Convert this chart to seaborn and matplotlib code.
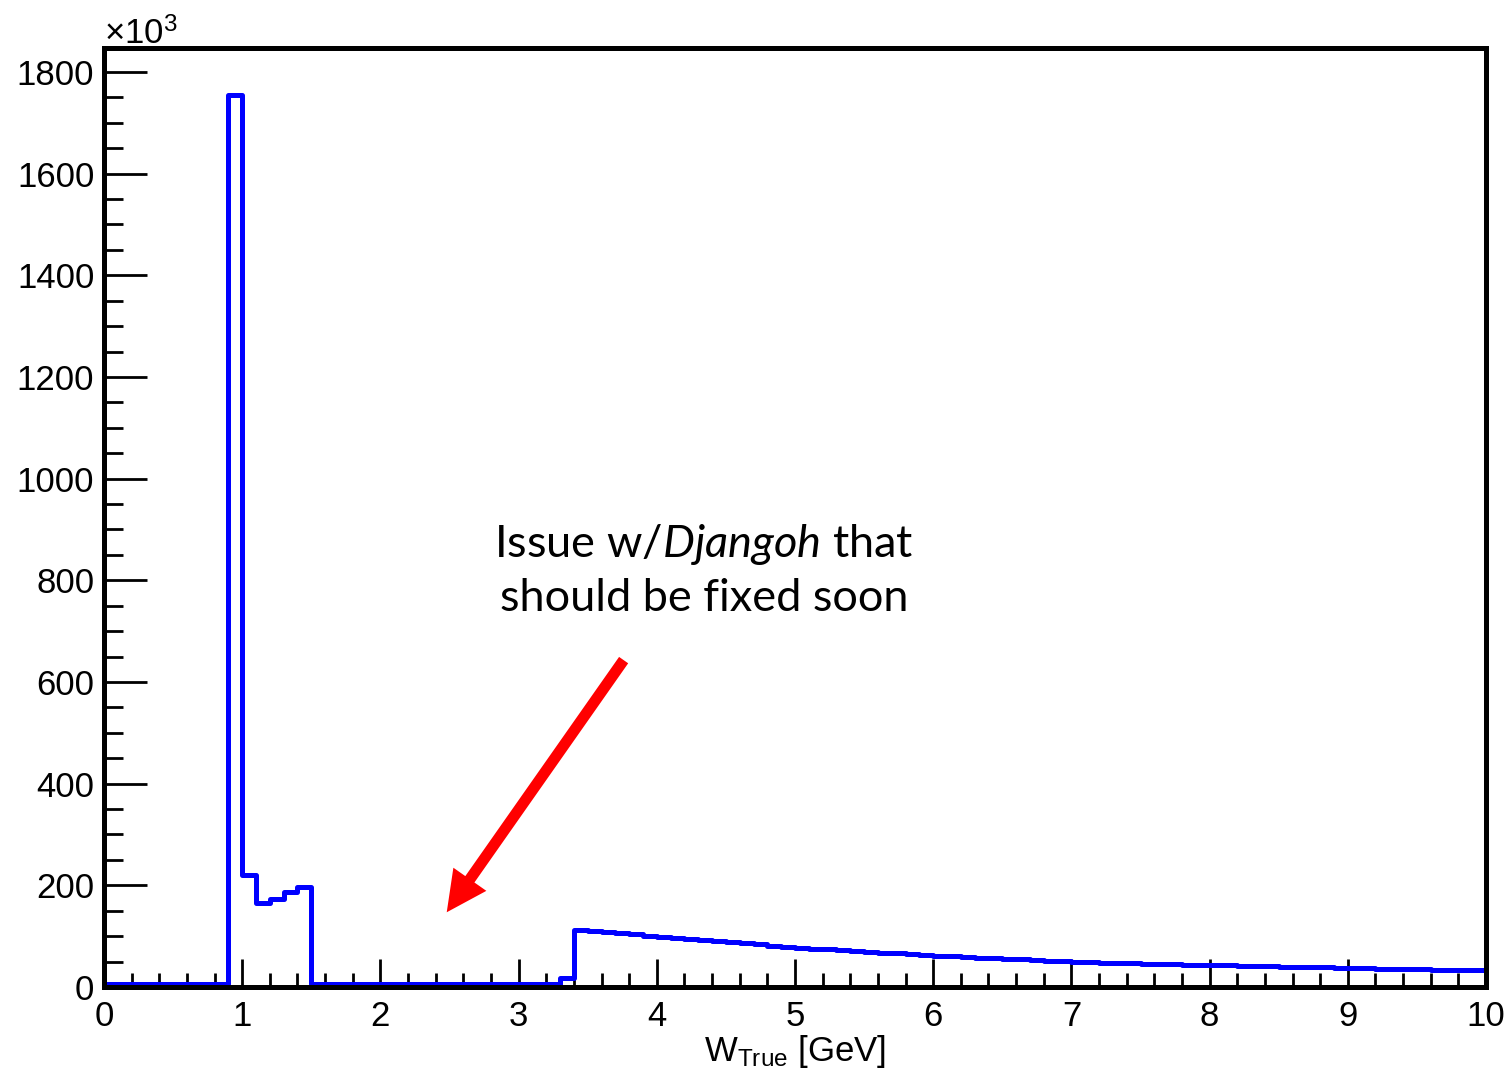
import numpy as np
import pandas as pd
import matplotlib
matplotlib.use("Agg")
import matplotlib.pyplot as plt
from matplotlib.ticker import MultipleLocator
import seaborn as sns

# Binning of W_true: 100 bins of 0.1 GeV between 0 and 10 GeV
n_bins = 100
w_range = (0.0, 10.0)
w_edges = np.linspace(w_range[0], w_range[1], n_bins + 1)
w_centers = 0.5 * (w_edges[:-1] + w_edges[1:])

# Entries per bin, in units of 10^3
counts_k = [
    # 0.0 - 0.8
    5, 5, 5, 5, 5, 5, 5, 5, 5,
    # 0.9 - 1.4
    1755, 220, 165, 173, 186, 196,
    # 1.5 - 3.2
    5, 5, 5, 5, 5, 5, 5, 5, 5, 5, 5, 5, 5, 5, 5, 5, 5, 5,
    # 3.3
    18,
    # 3.4 - 9.9
    113, 111, 108, 106, 104, 101, 99, 97, 95, 92,
    90, 88, 86, 84, 81, 79, 77, 75, 74, 72,
    71, 69, 67, 66, 64, 63, 61, 60, 59, 58,
    57, 56, 55, 53, 52, 51, 50, 49, 48, 47.5,
    47, 46, 45.5, 45, 44, 43.5, 43, 42.5, 42, 41,
    40.5, 40, 39.5, 39, 38.5, 38, 37.5, 37, 36, 35.5,
    35, 34.5, 34, 33.5, 33, 32.5,
]

x_ticks = [0, 1, 2, 3, 4, 5, 6, 7, 8, 9, 10]
y_ticks = [0, 200, 400, 600, 800, 1000, 1200, 1400, 1600, 1800]

df = pd.DataFrame({"w_true": w_centers, "entries": counts_k})

sns.set_theme(style="white")
plt.rcParams["font.family"] = ["Liberation Sans", "DejaVu Sans"]
plt.rcParams["mathtext.fontset"] = "custom"
plt.rcParams["mathtext.rm"] = "Lato"
plt.rcParams["mathtext.it"] = "Lato:italic"

fig = plt.figure(figsize=(15.08, 10.74), dpi=100)
ax = fig.add_axes([104 / 1508, 1 - 987 / 1074, (1486 - 104) / 1508, (987 - 48) / 1074])

sns.histplot(
    data=df, x="w_true", weights="entries", bins=n_bins, binrange=w_range,
    element="step", fill=False, color="#0000ff", linewidth=3.6, ax=ax,
)

ax.set_xlim(0, 10)
ax.set_ylim(0, 1847)
ax.set_xticks(x_ticks)
ax.set_yticks(y_ticks)
ax.xaxis.set_minor_locator(MultipleLocator(0.2))
ax.yaxis.set_minor_locator(MultipleLocator(50))

for side in ["left", "right", "top", "bottom"]:
    ax.spines[side].set_visible(True)
    ax.spines[side].set_color("black")
    ax.spines[side].set_linewidth(3.6)

ax.tick_params(axis="both", which="both", direction="in", color="black",
               labelsize=25, labelcolor="black", width=2)
ax.tick_params(axis="y", which="major", length=31, pad=7, left=True)
ax.tick_params(axis="y", which="minor", length=14, left=True)
ax.tick_params(axis="x", which="major", length=20, pad=9, bottom=True)
ax.tick_params(axis="x", which="minor", length=10, bottom=True)
ax.grid(False)

ax.set_ylabel("")
ax.set_xlabel(r"W$_\mathregular{True}$ [GeV]", fontsize=25, labelpad=0,
              color="black")

# Exponent of the y axis
ax.text(0.0, 1.004, r"×10$^\mathregular{3}$", transform=ax.transAxes,
        fontsize=25, ha="left", va="baseline", color="black")

# Note and arrow pointing at the empty W region
ax.text(4.34, 820, "Issue w/$\\mathit{Djangoh}$ that\nshould be fixed soon",
        fontfamily="Lato", fontsize=32.5, ha="center", va="center",
        multialignment="center", linespacing=1.33, color="black")
ax.annotate(
    "", xy=(2.48, 147), xytext=(3.76, 643), xycoords="data",
    arrowprops=dict(
        arrowstyle="simple,head_length=1.45,head_width=1.45,tail_width=0.4",
        mutation_scale=20, color="#ff0000", lw=0, shrinkA=0, shrinkB=0,
    ),
)

fig.savefig("out.png", dpi=100, facecolor="white")
